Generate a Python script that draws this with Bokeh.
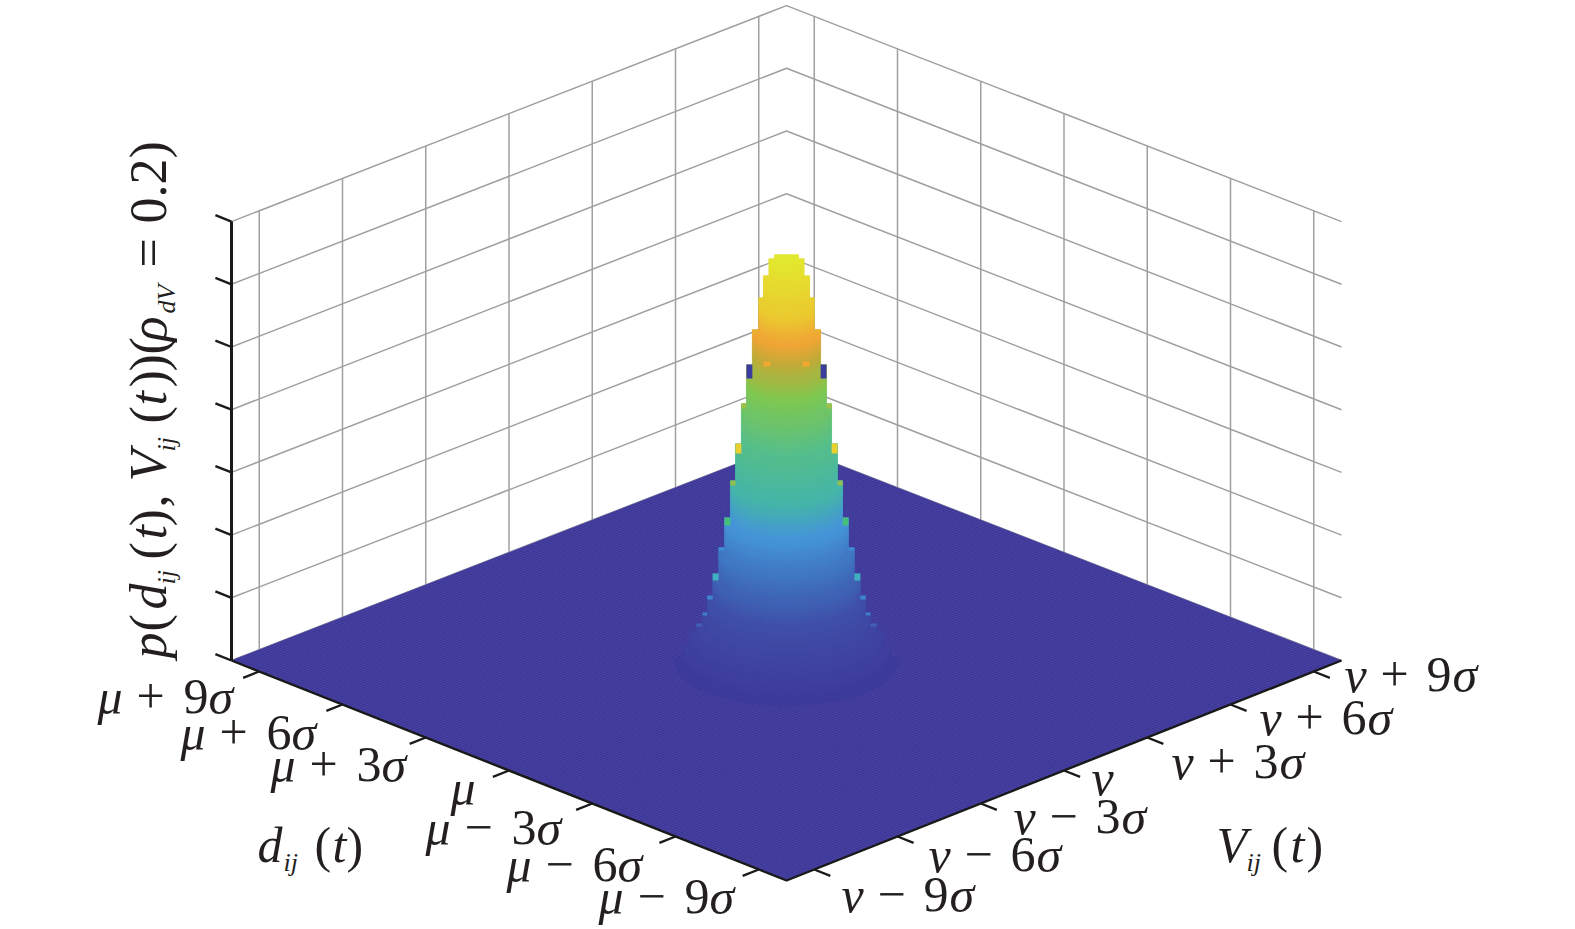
import numpy as np
from bokeh.plotting import figure
from bokeh.models import Range1d, ColumnDataSource
from bokeh.core.properties import value
from bokeh.embed import file_html
from bokeh.resources import INLINE

# ---- data ----
d_ticks = [-9, -6, -3, 0, 3, 6, 9]
v_ticks = [-9, -6, -3, 0, 3, 6, 9]
axis_limit = 10
z_tick_step = 62.7
z_ticks = [0, 1, 2, 3, 4, 5, 6, 7]
z_top = 7

# stepped peak: top of every step (z, arbitrary units) and its radius (sigma)
peak_step_top = [4, 18, 31, 38, 49, 64, 88, 114, 144, 181, 218, 258, 297, 332, 364, 386, 403, 407]
peak_step_rho = [2.86, 2.65, 2.47, 2.30, 2.14, 2.02, 1.88, 1.73, 1.58, 1.43, 1.30, 1.15, 1.02, 0.87, 0.71, 0.59, 0.45, 0.31]

# colour along z
color_z = [0, 30, 65, 105, 146, 180, 225, 278, 310, 330, 355, 407]
color_hex = ["#3C3A9A", "#3F42A0", "#3F4FA8", "#3F70BE", "#4595D8", "#45B5A8",
             "#55BE8C", "#7FC850", "#C0AA38", "#F0A535", "#EBC92F", "#E2E82E"]

# odd cells on the edge of the peak: z low, z high, rho in, rho out, colour
edge_z0 = [35, 46, 62, 81, 111, 136, 176, 208, 253, 283, 328, 295]
edge_z1 = [38, 49, 66, 88, 114, 144, 181, 218, 258, 297, 332, 300]
edge_r0 = [2.14, 2.02, 1.88, 1.73, 1.58, 1.43, 1.30, 1.15, 1.02, 0.87, 0.71, 0.41]
edge_r1 = [2.30, 2.14, 2.02, 1.88, 1.73, 1.58, 1.43, 1.30, 1.15, 1.02, 0.87, 0.59]
edge_c = ["#4060B5", "#3F7CCB", "#3E85D0", "#40B0C0", "#3F8CD8", "#45C07A",
          "#8FBF50", "#E8D030", "#9CBF48", "#3B3D9E", "#E8B030", "#F0A830"]

d_labels = ["μ + 9σ", "μ + 6σ", "μ + 3σ", "μ", "μ − 3σ", "μ − 6σ", "μ − 9σ"]
v_labels = ["v + 9σ", "v + 6σ", "v + 3σ", "v", "v − 3σ", "v − 6σ", "v − 9σ"]

# ---- projection of the view onto the page ----
def project(d, V, z=0.0):
    d, V, z = np.asarray(d, float), np.asarray(V, float), np.asarray(z, float)
    a = (d + axis_limit) / (2 * axis_limit)
    b = (V + axis_limit) / (2 * axis_limit)
    x = 786 + (b - a) * 555
    y = 880 - 220 * a - 220 * b + 4 * a * b - z
    return x, y

p = figure(width=1559, height=929, x_range=Range1d(0, 1559), y_range=Range1d(929, 0),
           output_backend="svg", toolbar_location=None, min_border=0,
           outline_line_color=None, background_fill_color="white", border_fill_color="white")
p.axis.visible = False
p.grid.visible = False

L = axis_limit
ZT = z_top * z_tick_step
GRID = "#A0A0A0"

# ---- walls ----
xs, ys = [], []
for t in d_ticks:
    x0, y0 = project(t, L, 0); x1, y1 = project(t, L, ZT)
    xs.append([x0, x1]); ys.append([y0, y1])
for t in v_ticks:
    x0, y0 = project(L, t, 0); x1, y1 = project(L, t, ZT)
    xs.append([x0, x1]); ys.append([y0, y1])
for k in z_ticks:
    z = k * z_tick_step
    xa, ya = project(L, -L, z); xb, yb = project(L, L, z); xc, yc = project(-L, L, z)
    xs.append([xa, xb, xc]); ys.append([ya, yb, yc])
p.multi_line(xs, ys, line_color=GRID, line_width=1.5)

# ---- floor ----
fx, fy = project([-L, L, L, -L], [-L, -L, L, L])
p.patch(fx, fy, fill_color="#3B3595", line_color="#3B3595", line_width=0.5)
mesh = np.linspace(-L, L, 181)
mx, my = [], []
for m in mesh:
    x0, y0 = project(m, -L); x1, y1 = project(m, L)
    mx.append([x0, x1]); my.append([y0, y1])
    x0, y0 = project(-L, m); x1, y1 = project(L, m)
    mx.append([x0, x1]); my.append([y0, y1])
p.multi_line(mx, my, line_color="#8A86E0", line_width=0.4, line_alpha=0.32)

# ---- peak: extruded steps, low to high ----
def cmap(z):
    rgb = np.array([[int(h[i:i + 2], 16) for i in (1, 3, 5)] for h in color_hex], float)
    c = [np.interp(z, color_z, rgb[:, j]) for j in range(3)]
    return "#%02x%02x%02x" % tuple(int(round(v)) for v in c)

theta = np.linspace(0, np.pi, 41)
px, py, pc = [], [], []
bottom = 0
s = np.sqrt(0.5)
for top, rho in zip(peak_step_top, peak_step_rho):
    for zl in np.arange(bottom, top, 2.0):
        zu = min(zl + 2.0, top)
        dd = -rho * s * np.cos(theta) - rho * s * np.sin(theta)
        vv = rho * s * np.cos(theta) - rho * s * np.sin(theta)
        xl, yl = project(dd, vv, zl)
        xr, yr = project(-rho * s, rho * s, zu)
        xq, yq = project(rho * s, -rho * s, zu)
        px.append(list(xl) + [float(xq), float(xr)])
        py.append(list(yl) + [float(yq), float(yr)])
        pc.append(cmap(zu))
    bottom = top
p.patches(px, py, fill_color=pc, line_color=pc, line_width=0.4)

# edge cells, both sides of the peak
qx, qy, qc = [], [], []
for z0, z1, r0, r1, c in zip(edge_z0, edge_z1, edge_r0, edge_r1, edge_c):
    for sgn in (1, -1):
        x0, y0 = project(-sgn * r0 * s, sgn * r0 * s, z0)
        x1, y1 = project(-sgn * r1 * s, sgn * r1 * s, z0)
        x2, y2 = project(-sgn * r1 * s, sgn * r1 * s, z1)
        x3, y3 = project(-sgn * r0 * s, sgn * r0 * s, z1)
        qx.append([x0, x1, x2, x3]); qy.append([y0, y1, y2, y3]); qc.append(c)
p.patches(qx, qy, fill_color=qc, line_color=None)

# ---- axes ----
ax, ay = [], []
xa, ya = project(L, -L); xb, yb = project(-L, -L); xc, yc = project(-L, L)
ax.append([xa, xb, xc]); ay.append([ya, yb, yc])
p.multi_line(ax, ay, line_color="#1A1A1A", line_width=2.4)
x0, y0 = project(L, -L, 0); x1, y1 = project(L, -L, ZT)
p.line([x0, x1], [y0, y1], line_color="#1A1A1A", line_width=3)

tick_len = 0.58
tx, ty = [], []
for t in d_ticks:
    x0, y0 = project(t, -L); x1, y1 = project(t, -L - tick_len)
    tx.append([x0, x1]); ty.append([y0, y1])
for t in v_ticks:
    x0, y0 = project(-L, t); x1, y1 = project(-L - tick_len, t)
    tx.append([x0, x1]); ty.append([y0, y1])
for k in z_ticks:
    x0, y0 = project(L, -L, k * z_tick_step); x1, y1 = project(L + tick_len, -L, k * z_tick_step)
    tx.append([x0, x1]); ty.append([y0, y1])
p.multi_line(tx, ty, line_color="#1A1A1A", line_width=2.4)

# ---- texts ----
T = dict(x=[], y=[], text=[], style=[], size=[], angle=[])
DROP = 0.32
def run(x, y, text, style="normal", size=50, angle=0.0):
    if angle:
        x = x - DROP * size
    else:
        y = y - DROP * size
    T["x"].append(x); T["y"].append(y); T["text"].append(text)
    T["style"].append(style); T["size"].append(f"{size}px"); T["angle"].append(angle)

def tick_label(x, y, label, sign_dx, digit_dx, sigma_dx):
    parts = label.split(" ")
    run(x, y, parts[0], "italic")
    if len(parts) > 1:
        run(x + sign_dx, y, parts[1])
        run(x + digit_dx, y, parts[2][0])
        run(x + sigma_dx, y, parts[2][1], "italic")

d_pos_x = [97, 180, 270, 450, 425, 506, 598]
d_pos_y = [712, 748, 780, 803, 843, 880, 912]
v_pos_x = [1344, 1259, 1171, 1091, 1013, 928, 841]
v_pos_y = [690, 733, 777, 793, 832, 870, 910]
for x, y, lab in zip(d_pos_x, d_pos_y, d_labels):
    tick_label(x, y, lab, 39, 86, 111)
for x, y, lab in zip(v_pos_x, v_pos_y, v_labels):
    tick_label(x, y, lab, 36, 82, 108)

run(257, 860, "d", "italic"); run(283, 870, "ij", "italic", 26)
run(314, 860, "("); run(332, 860, "t", "italic"); run(346, 860, ")")
run(1216, 860, "V", "italic"); run(1246, 870, "ij", "italic", 26)
run(1271, 860, "("); run(1290, 860, "t", "italic"); run(1306, 860, ")")

A = np.pi / 2
bx = 165
sub = 174
for y, text, style, size, xx in [
    (658, "p", "italic", 52, bx), (631, "(", "normal", 52, bx), (609, "d", "italic", 52, bx),
    (584, "ij", "italic", 26, sub), (559, "(", "normal", 52, bx), (539, "t", "italic", 52, bx),
    (526, ")", "normal", 52, bx), (507, ",", "normal", 52, bx), (481, "V", "italic", 52, bx),
    (451, "ij", "italic", 26, sub), (423, "(", "normal", 52, bx), (405, "t", "italic", 52, bx),
    (387, ")", "normal", 52, bx), (371, ")", "normal", 52, bx), (354, "(", "normal", 52, bx),
    (341, "ρ", "italic", 52, bx), (313, "dV", "italic", 26, sub), (267, "=", "normal", 52, bx),
    (223, "0.2", "normal", 52, bx), (158, ")", "normal", 52, bx)]:
    run(xx, y, text, style, size, A)

src = ColumnDataSource(T)
p.text(x="x", y="y", text="text", angle="angle", source=src,
       text_font=value("Liberation Serif"), text_font_style="style", text_font_size="size",
       text_color="#231F20", text_baseline="alphabetic", text_align="left")

open("out.html", "w").write(file_html(p, INLINE))
